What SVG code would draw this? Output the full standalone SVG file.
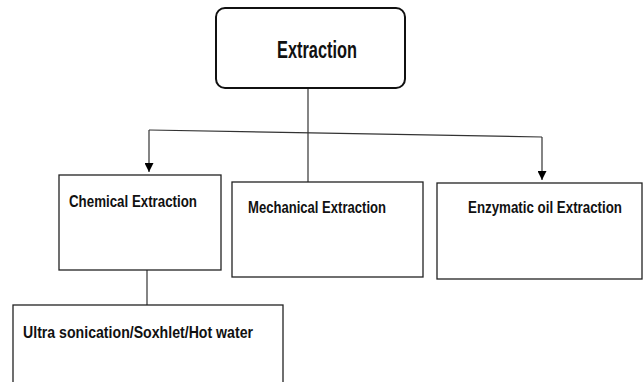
<svg xmlns="http://www.w3.org/2000/svg" width="644" height="382" viewBox="0 0 644 382">
<style>
.box{fill:#fff;stroke:#222;stroke-width:1.3}
.t{font-family:"Liberation Sans",Arial,sans-serif;font-weight:bold;fill:#111}
.c{fill:none;stroke:#333;stroke-width:1.2}
</style>
<defs>
<marker id="ah" viewBox="0 0 10 10" refX="10" refY="5" markerWidth="11" markerHeight="9" markerUnits="userSpaceOnUse" orient="auto">
<path d="M0,0 L10,5 L0,10 Z" fill="#000"/>
</marker>
</defs>
<rect width="644" height="382" fill="#fff"/>
<g id="connectors">
<line class="c" x1="308" y1="88" x2="308" y2="182"/>
<line class="c" x1="149" y1="130" x2="542" y2="137"/>
<line class="c" x1="149" y1="130" x2="149" y2="172" marker-end="url(#ah)"/>
<line class="c" x1="542" y1="137" x2="542" y2="180" marker-end="url(#ah)"/>
<line class="c" x1="147" y1="270" x2="147" y2="305"/>
</g>
<g id="extraction">
<rect x="216" y="8" width="189" height="80" rx="9" fill="#fff" stroke="#111" stroke-width="2"/>
<text class="t" x="277" y="58" font-size="24" textLength="80" lengthAdjust="spacingAndGlyphs">Extraction</text>
</g>
<g id="chemical">
<rect class="box" x="59" y="175" width="162" height="95"/>
<text class="t" x="69" y="207" font-size="17" textLength="128" lengthAdjust="spacingAndGlyphs">Chemical Extraction</text>
</g>
<g id="mechanical">
<rect class="box" x="232" y="182" width="191" height="95"/>
<text class="t" x="248" y="213" font-size="17" textLength="138" lengthAdjust="spacingAndGlyphs">Mechanical Extraction</text>
</g>
<g id="enzymatic">
<rect class="box" x="437" y="183" width="205" height="96"/>
<text class="t" x="468" y="213" font-size="17" textLength="154" lengthAdjust="spacingAndGlyphs">Enzymatic oil Extraction</text>
</g>
<g id="ultra">
<rect class="box" x="13" y="305" width="270" height="90"/>
<text class="t" x="23" y="338" font-size="17" textLength="230" lengthAdjust="spacingAndGlyphs">Ultra sonication/Soxhlet/Hot water</text>
</g>
</svg>
